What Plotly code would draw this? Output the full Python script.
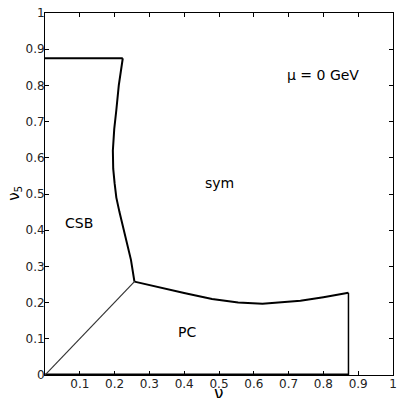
import plotly.graph_objects as go

# Phase boundaries in the (nu, nu5) plane
top_nu = [0.0, 0.2235]
top_nu5 = [0.875, 0.875]

csb_sym_nu = [0.2235, 0.212, 0.205, 0.199, 0.195, 0.196, 0.200, 0.205, 0.214, 0.2235, 0.235, 0.247, 0.257]
csb_sym_nu5 = [0.875, 0.80, 0.732, 0.68, 0.62, 0.57, 0.53, 0.49, 0.45, 0.41, 0.36, 0.318, 0.258]

pc_sym_nu = [0.257, 0.33, 0.403, 0.48, 0.555, 0.625, 0.68, 0.734, 0.80, 0.872]
pc_sym_nu5 = [0.258, 0.243, 0.226, 0.21, 0.200, 0.197, 0.2, 0.205, 0.215, 0.227]

edge_nu = [0.872, 0.872, 0.0]
edge_nu5 = [0.227, 0.0, 0.0]

diag_nu = [0.0, 0.257]
diag_nu5 = [0.0, 0.258]

region_labels = ["CSB", "sym", "PC", "μ = 0 GeV"]
region_nu = [0.098, 0.50, 0.407, 0.80]
region_nu5 = [0.42, 0.53, 0.12, 0.83]

tick_vals = [0, 0.1, 0.2, 0.3, 0.4, 0.5, 0.6, 0.7, 0.8, 0.9, 1]
tick_text = ["0", "0.1", "0.2", "0.3", "0.4", "0.5", "0.6", "0.7", "0.8", "0.9", "1"]

fig = go.Figure()
line_style = dict(color="black", width=2)
fig.add_trace(go.Scatter(x=top_nu, y=top_nu5, mode="lines", line=line_style))
fig.add_trace(go.Scatter(x=csb_sym_nu, y=csb_sym_nu5, mode="lines", line=line_style))
fig.add_trace(go.Scatter(x=pc_sym_nu, y=pc_sym_nu5, mode="lines", line=line_style))
fig.add_trace(go.Scatter(x=edge_nu[:2], y=edge_nu5[:2], mode="lines", line=dict(color="black", width=1.5)))
fig.add_trace(go.Scatter(x=edge_nu[1:], y=edge_nu5[1:], mode="lines", line=dict(color="black", width=3)))
fig.add_trace(go.Scatter(x=diag_nu, y=diag_nu5, mode="lines", line=dict(color="#333333", width=1.2)))

for txt, xv, yv in zip(region_labels, region_nu, region_nu5):
    fig.add_annotation(x=xv, y=yv, text=txt, showarrow=False,
                       font=dict(family="DejaVu Sans", size=14, color="black"))

# axis titles
fig.add_annotation(xref="paper", yref="paper", x=0.5, y=-0.080, yanchor="bottom",
                   text="ν", showarrow=False, borderpad=0,
                   font=dict(family="DejaVu Sans", size=17, color="black"))
fig.add_annotation(xref="paper", yref="paper", x=-0.0865, y=0.503, xanchor="center",
                   text="ν<sub>5</sub>", textangle=-90, showarrow=False, borderpad=0,
                   font=dict(family="DejaVu Sans", size=15, color="black"))

axis_common = dict(range=[0, 1], showgrid=False, zeroline=False, showline=True,
                   linecolor="black", linewidth=1, mirror="ticks", ticks="inside",
                   ticklen=4, tickcolor="black",
                   tickfont=dict(family="DejaVu Sans", size=12, color="#222222"))

fig.update_xaxes(tickvals=tick_vals[1:], ticktext=tick_text[1:], ticklabelstandoff=-2, **axis_common)
fig.update_yaxes(tickvals=tick_vals, ticktext=tick_text, ticklabelstandoff=-3, **axis_common)

fig.update_layout(width=402, height=398, showlegend=False,
                  plot_bgcolor="white", paper_bgcolor="white",
                  margin=dict(l=44.5, r=5, t=13, b=23))

fig.write_html("out.html")
